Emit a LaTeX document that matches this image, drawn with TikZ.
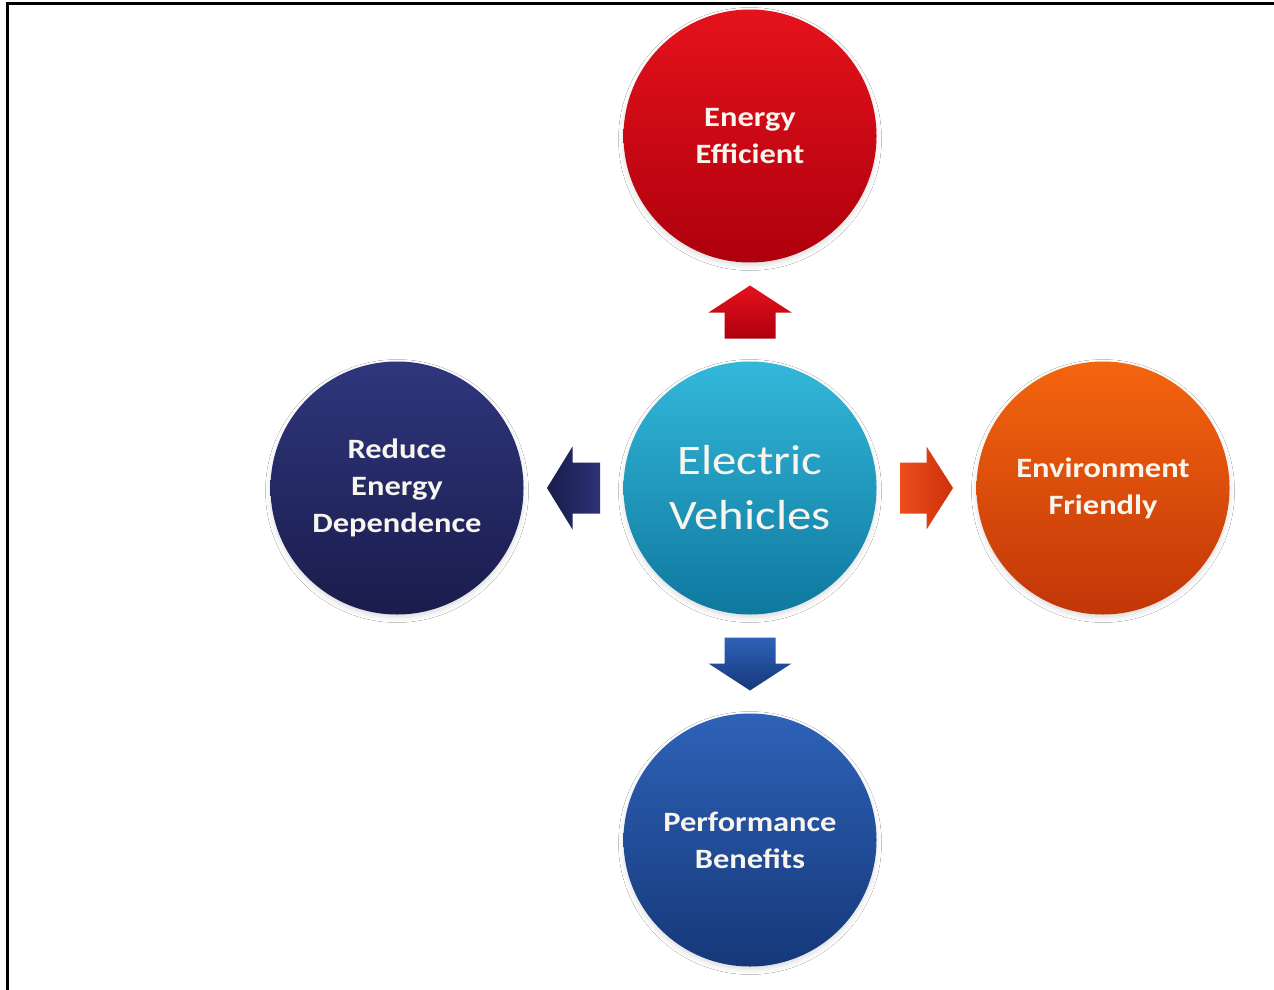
\documentclass[tikz,border=0pt]{standalone}
\usepackage{fontspec}
\newfontfamily\labfont[FakeStretch=1.16]{Carlito}
\usetikzlibrary{calc,shadows.blur}
\definecolor{redT}{HTML}{E5121C}
\definecolor{redB}{HTML}{AE000D}
\definecolor{cyanT}{HTML}{33B8DA}
\definecolor{cyanB}{HTML}{0F789F}
\definecolor{navyT}{HTML}{2F367C}
\definecolor{navyB}{HTML}{1A1C4C}
\definecolor{orgT}{HTML}{F4650F}
\definecolor{orgB}{HTML}{C23608}
\definecolor{arrOL}{HTML}{EC4E1C}
\definecolor{arrOR}{HTML}{CE300C}
\definecolor{bluT}{HTML}{2E62B8}
\definecolor{bluB}{HTML}{163879}
\definecolor{txt}{HTML}{F8F5EE}
\tikzset{
  bubble/.style={circle, minimum size=253pt, inner sep=0pt, text=txt, align=center,
    font=\labfont\bfseries\fontsize{28}{37}\selectfont,
    blur shadow={shadow xshift=0pt, shadow yshift=-3pt, shadow blur radius=5pt, shadow opacity=14}},
  frameline/.style={line width=3pt, black}
}
\begin{document}
\begin{tikzpicture}[x=1pt,y=-1pt]
\useasboundingbox (0,0) rectangle (1274,990);
\fill[white] (0,0) rectangle (1274,990);
\draw[frameline] (7.5,990) -- (7.5,3.5) -- (1274,3.5);

\node[bubble, top color=cyanT, bottom color=cyanB, font=\labfont\fontsize{42}{55}\selectfont] (ev) at (750,488) {Electric\\Vehicles};
\node[bubble, top color=redT, bottom color=redB] (ee) at (750,136) {Energy\\Efficient};
\node[bubble, top color=navyT, bottom color=navyB] (red) at (397,488) {Reduce\\Energy\\Dependence};
\node[bubble, top color=orgT, bottom color=orgB] (env) at (1103,488) {Environment\\Friendly};
\node[bubble, top color=bluT, bottom color=bluB] (pb) at (750,840) {Performance\\Benefits};

\coordinate (mu) at ($(ev)!0.5!(ee)$);
\coordinate (md) at ($(ev)!0.5!(pb)$);
\coordinate (ml) at ($(ev)!0.5!(red)$);
\coordinate (mr) at ($(ev)!0.5!(env)$);

% up arrow
\path[top color=redT, bottom color=redB]
  ($(mu)+(0,-26.5)$) -- ($(mu)+(41.5,0.5)$) -- ($(mu)+(25.5,0.5)$) -- ($(mu)+(25.5,26.5)$)
  -- ($(mu)+(-25.5,26.5)$) -- ($(mu)+(-25.5,0.5)$) -- ($(mu)+(-41.5,0.5)$) -- cycle;
% down arrow
\path[top color=bluT, bottom color=bluB]
  ($(md)+(0,26.5)$) -- ($(md)+(41.5,-0.5)$) -- ($(md)+(25.5,-0.5)$) -- ($(md)+(25.5,-26.5)$)
  -- ($(md)+(-25.5,-26.5)$) -- ($(md)+(-25.5,-0.5)$) -- ($(md)+(-41.5,-0.5)$) -- cycle;
% left arrow
\path[left color=navyB, right color=navyT!85!navyB]
  ($(ml)+(-26.5,0)$) -- ($(ml)+(-1,-41.5)$) -- ($(ml)+(-1,-25.5)$) -- ($(ml)+(26.5,-25.5)$)
  -- ($(ml)+(26.5,25.5)$) -- ($(ml)+(-1,25.5)$) -- ($(ml)+(-1,41.5)$) -- cycle;
% right arrow
\path[left color=arrOL, right color=arrOR]
  ($(mr)+(26.5,0)$) -- ($(mr)+(0,-41.5)$) -- ($(mr)+(0,-25.5)$) -- ($(mr)+(-26.5,-25.5)$)
  -- ($(mr)+(-26.5,25.5)$) -- ($(mr)+(0,25.5)$) -- ($(mr)+(0,41.5)$) -- cycle;
\end{tikzpicture}
\end{document}
